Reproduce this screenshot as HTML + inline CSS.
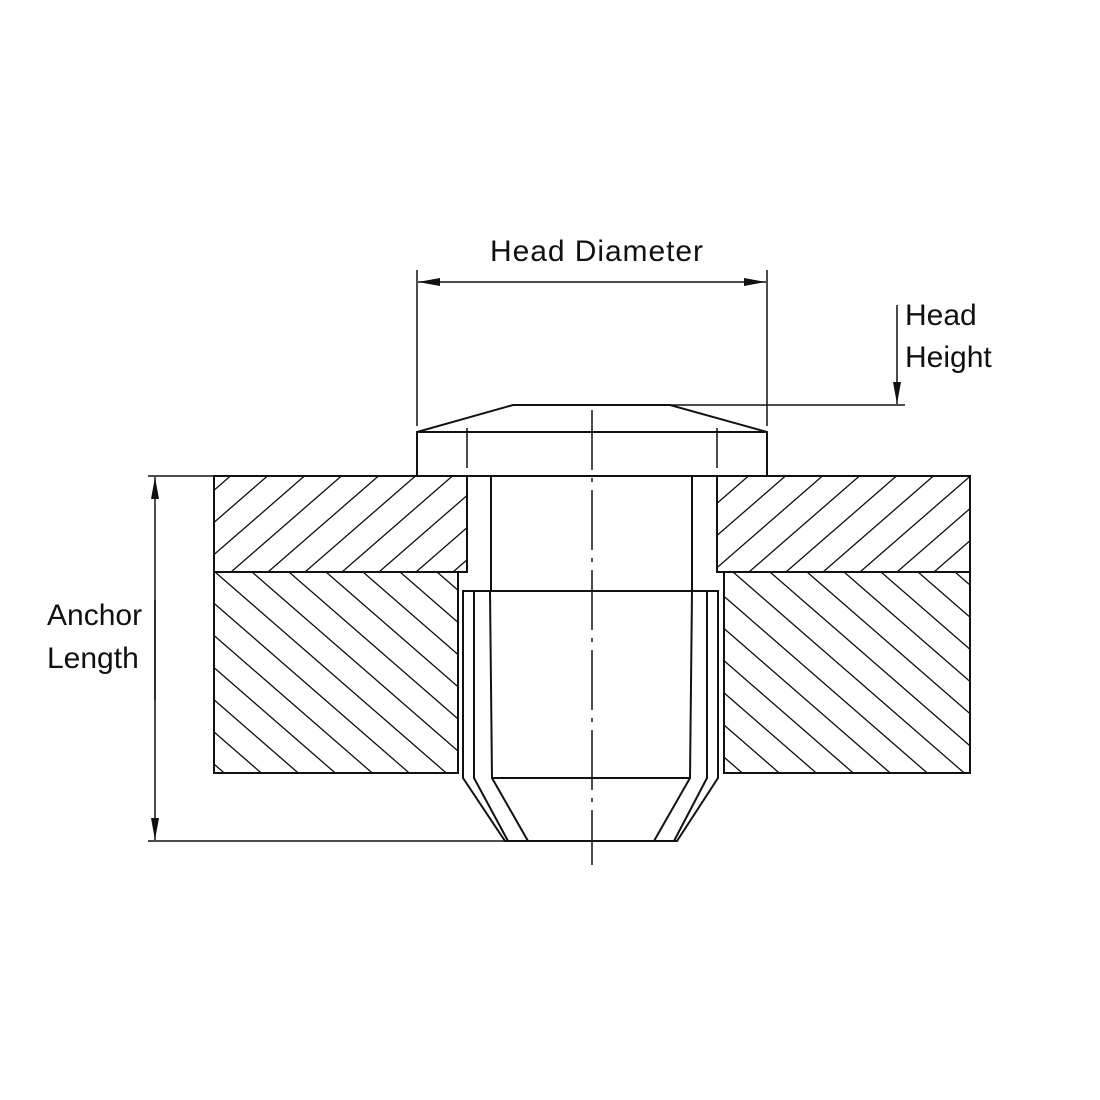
<!DOCTYPE html>
<html><head><style>body{margin:0;background:#fff}svg{display:block}</style></head><body>
<svg width="1100" height="1100" viewBox="0 0 1100 1100" xmlns="http://www.w3.org/2000/svg">
<defs>
<pattern id="hu" patternUnits="userSpaceOnUse" width="37" height="37" patternTransform="skewX(-49)">
<line x1="1" y1="0" x2="1" y2="37" stroke="#111" stroke-width="2"/></pattern>
<pattern id="hd" patternUnits="userSpaceOnUse" width="37" height="37" patternTransform="skewX(49)">
<line x1="1" y1="0" x2="1" y2="37" stroke="#111" stroke-width="2"/></pattern>
<marker id="ar" markerWidth="22" markerHeight="10" refX="22" refY="5" orient="auto" markerUnits="userSpaceOnUse">
<path d="M0,1 L22,5 L0,9 Z" fill="#111"/></marker>
</defs>
<g stroke="#111" stroke-width="2" fill="none">
<rect x="214" y="476" width="253" height="96" fill="url(#hu)"/>
<rect x="717" y="476" width="253" height="96" fill="url(#hu)"/>
<rect x="214" y="572" width="244" height="201" fill="url(#hd)"/>
<rect x="724" y="572" width="246" height="201" fill="url(#hd)"/>
<path d="M417,476 L417,432 L513,405 L670,405 L767,432 L767,476 Z" fill="#fff"/>
<line x1="417" y1="432" x2="767" y2="432"/>
<line x1="417" y1="476" x2="767" y2="476"/>
<line x1="467" y1="428" x2="467" y2="468" stroke-width="1.5"/>
<line x1="717" y1="428" x2="717" y2="468" stroke-width="1.5"/>
<line x1="491" y1="476" x2="491" y2="591"/>
<line x1="692" y1="476" x2="692" y2="591"/>
<path d="M463,591 L718,591 L718,778 L677,841 L505,841 L463,778 Z"/>
<path d="M474,591 L474,778 L508,841"/>
<path d="M707,591 L707,778 L674,841"/>
<path d="M490,591 L492,778 L528,841"/>
<path d="M692,591 L690,778 L654,841"/>
<line x1="492" y1="778" x2="690" y2="778"/>
<line x1="592" y1="410" x2="592" y2="865" stroke-width="1.5" stroke-dasharray="60,8,4,8"/>
<g stroke-width="1.5">
<line x1="417" y1="270" x2="417" y2="426"/>
<line x1="767" y1="270" x2="767" y2="426"/>
<line x1="670" y1="405" x2="905" y2="405"/>
<line x1="897" y1="305" x2="897" y2="404" marker-end="url(#ar)"/>
<line x1="148" y1="476" x2="214" y2="476"/>
<line x1="148" y1="841" x2="505" y2="841"/>
<line x1="155" y1="700" x2="155" y2="477" marker-end="url(#ar)"/>
<line x1="155" y1="600" x2="155" y2="840" marker-end="url(#ar)"/>
<line x1="592" y1="282" x2="418" y2="282" marker-end="url(#ar)"/>
<line x1="592" y1="282" x2="766" y2="282" marker-end="url(#ar)"/>
</g>
</g>
<g font-family="Liberation Sans, sans-serif" font-size="30" fill="#111">
<text x="490" y="261" textLength="213">Head Diameter</text>
<text x="905" y="325">Head</text>
<text x="905" y="367">Height</text>
<text x="47" y="625">Anchor</text>
<text x="47" y="668">Length</text>
</g>
</svg>
</body></html>
